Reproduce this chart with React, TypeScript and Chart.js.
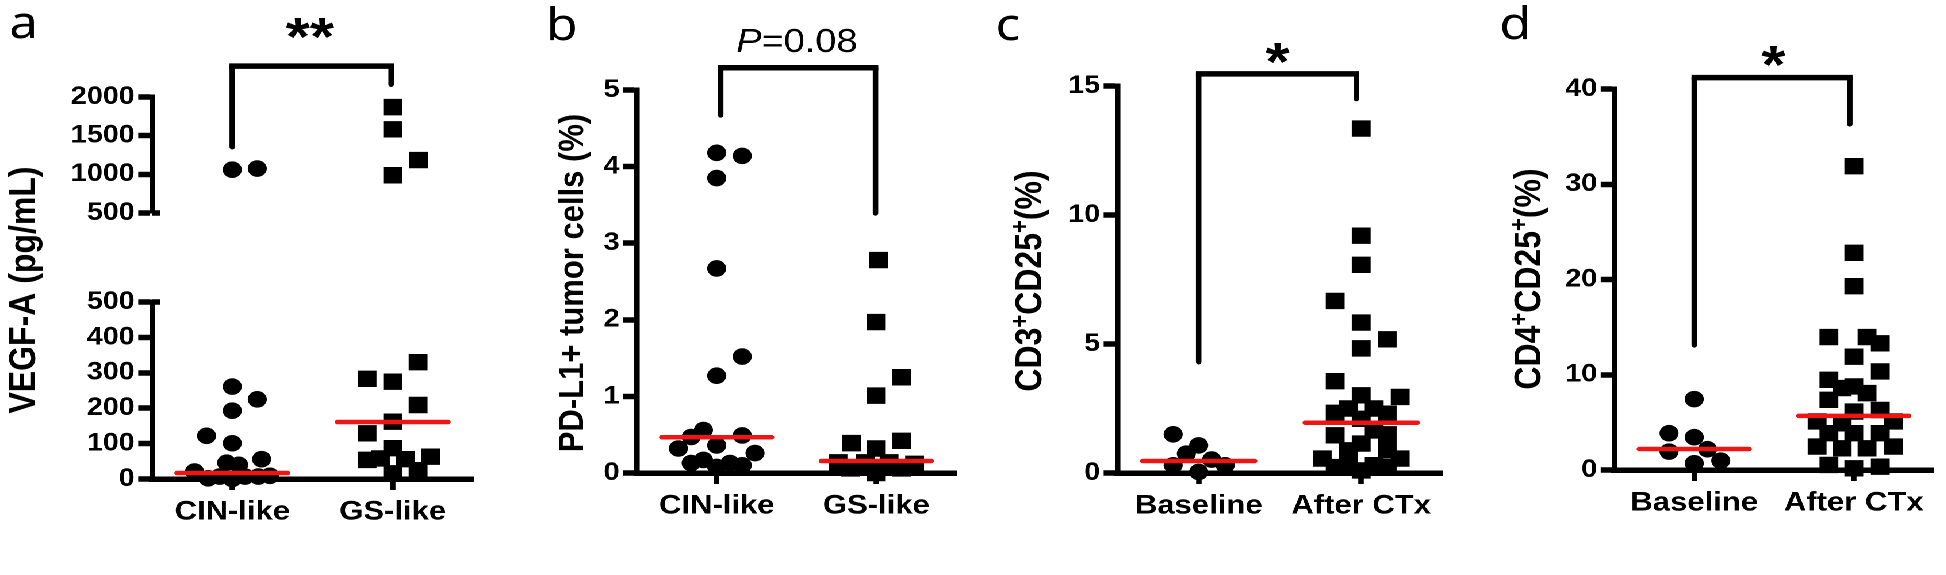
import React, { useEffect, useRef } from 'react';
import { Chart, registerables } from 'chart.js';

Chart.register(...registerables);

// ---------------- data ----------------
const groupsMolecular = ['CIN-like', 'GS-like'];
const groupsTreatment = ['Baseline', 'After CTx'];

// a: VEGF-A (pg/mL)
const vegfCin = [1060, 1075, 261, 225, 193, 122, 101, 46, 40, 56, 21, 2, 7, 0, 7, 7, 9];
const vegfCinJitter = [0, 0.156, 0, 0.156, 0, -0.16, 0, -0.035, 0.04, 0.183, -0.235, -0.15, -0.078, 0, 0.079, 0.163, 0.235];
const vegfGs = [1869, 1582, 1184, 988, 330, 283, 275, 209, 162, 129, 87, 54, 58, 56, 63, 16, 25];
const vegfGsJitter = [0, 0, 0.16, 0, 0.158, -0.16, 0, 0.158, 0, -0.16, 0, -0.16, -0.077, 0.079, 0.235, 0, 0.158];
const vegfMedians = [17, 161];
const vegfUpperTicks = [500, 1000, 1500, 2000];
const vegfLowerTicks = [0, 100, 200, 300, 400, 500];
const vegfBreak = 500;

// b: PD-L1+ tumor cells (%)
const pdl1Cin = [4.18, 4.14, 3.85, 2.67, 1.52, 1.27, 0.56, 0.47, 0.49, 0.32, 0.36, 0.26, 0.13, 0.17, 0.08, 0.13, 0.1];
const pdl1CinJitter = [0, 0.16, 0, 0, 0.16, 0, -0.083, -0.16, 0.16, -0.24, 0, 0.24, -0.16, -0.083, 0, 0.083, 0.16];
const pdl1Gs = [2.78, 1.97, 1.25, 1.01, 0.42, 0.39, 0.32, 0.14, 0.14, 0.14, 0.12, 0.06, 0.06, 0.06, 0.0];
const pdl1GsJitter = [0.015, 0, 0.16, 0, 0.16, -0.156, 0, -0.24, -0.07, 0.08, 0.24, -0.16, 0, 0.16, 0];
const pdl1Medians = [0.466, 0.157];
const pdl1Ticks = [0, 1, 2, 3, 4, 5];

// c: CD3+CD25+ (%)
const cd3Baseline = [1.5, 1.07, 0.75, 0.52, 0.3, 0.3, 0.04];
const cd3BaselineJitter = [-0.157, 0, -0.076, 0.08, -0.157, 0.163, 0];
const cd3After = [13.35, 9.2, 8.07, 6.67, 5.83, 5.18, 4.83, 3.56, 3.01, 2.95, 2.5, 2.5, 2.33, 2.3, 2.1, 1.65, 1.46, 1.5, 1.14, 0.88, 0.88, 0.56, 0.56, 0.23, 0.3, 0.1, 0.3, 0.23];
const cd3AfterJitter = [0, 0, 0, -0.16, 0, 0.16, 0, -0.16, 0, 0.24, -0.08, 0.08, -0.16, 0.16, 0, 0.08, -0.16, 0.16, 0, 0.16, -0.08, -0.24, 0.24, -0.16, -0.08, 0, 0.08, 0.16];
const cd3Medians = [0.465, 1.95];
const cd3Ticks = [0, 5, 10, 15];

// d: CD4+CD25+ (%)
const cd4Baseline = [7.44, 3.86, 3.44, 1.93, 2.18, 0.7, 0.98];
const cd4BaselineJitter = [0, -0.158, 0, -0.158, 0.083, 0, 0.166];
const cd4After = [31.9, 22.8, 19.3, 13.96, 13.96, 13.3, 11.9, 10.35, 9.47, 8.6, 8.77, 8.07, 7.37, 6.14, 6.3, 5.1, 4.9, 5.1, 3.86, 3.86, 3.86, 2.46, 2.28, 2.28, 2.46, 0.53, 0.18, 0.35];
const cd4AfterJitter = [0, 0, 0, -0.156, 0.083, 0.166, 0, 0.166, -0.156, -0.073, 0, 0.083, -0.156, 0, 0.166, -0.23, -0.073, 0.25, -0.156, 0, 0.166, -0.23, -0.073, 0.083, 0.25, -0.156, 0, 0.166];
const cd4Medians = [2.2, 5.68];
const cd4Ticks = [0, 10, 20, 30, 40];

// ---------------- layout & style ----------------
const S = 1.15; // the reference figure is stretched horizontally
const PAGE_W = 1946;
const PAGE_H = 575;
const RED = '#ee1515';
const FONT = '"Liberation Sans", Arial, sans-serif';
const LETTER_FONT = '"Noto Sans", sans-serif';
const MED_HALF = 0.345;
const Y_AXIS_W = 75;
const X_AXIS_H = 60;
const LINE_W = 5.5;

type Series = { values: number[]; jitter: number[]; cat: number; style: 'circle' | 'rect'; keep?: (v: number) => boolean };
type Seg = { t: string; sup?: boolean; italic?: boolean };
type Spec = {
  left: number; width: number; axisX: number; rightX: number; topY: number; bottomY: number;
  yTicks: number[]; xLabels: string[] | null; series: Series[]; medians: number[] | null;
  letter?: { t: string; x: number; y: number };
  title?: { segs: Seg[]; x: number; y: number; size: number };
  bracket?: { x1: number; x2: number; top: number; l: number; r: number };
  sig?: { segs: Seg[]; x: number; y: number; size: number; bold: boolean };
  breakAt?: number;
};

const above = (v: number) => v > vegfBreak;
const below = (v: number) => v <= vegfBreak;
const plus = '+';

const panelA = { left: 0, width: 490, axisX: 152, rightX: 473 };
const panelB = { left: 490, width: 480, axisX: 637, rightX: 960, topY: 90, bottomY: 473 };
const panelC = { left: 970, width: 490, axisX: 1118, rightX: 1443, topY: 86, bottomY: 473 };
const panelD = { left: 1460, width: 486, axisX: 1614, rightX: 1938, topY: 89, bottomY: 470 };

const SPECS: Spec[] = [
  {
    ...panelA, topY: 97, bottomY: 273, yTicks: vegfUpperTicks, xLabels: null, medians: null,
    series: [
      { values: vegfCin, jitter: vegfCinJitter, cat: 1, style: 'circle', keep: above },
      { values: vegfGs, jitter: vegfGsJitter, cat: 2, style: 'rect', keep: above },
    ],
    letter: { t: 'a', x: 9, y: 38 },
    title: { segs: [{ t: 'VEGF-A (pg/mL)' }], x: 35, y: 290, size: 32 },
    bracket: { x1: 1, x2: 1.99, top: 2400, l: 1352, r: 2161 },
    sig: { segs: [{ t: '**' }], x: 310, y: 55, size: 54, bold: true },
    breakAt: vegfBreak,
  },
  {
    ...panelA, topY: 302, bottomY: 479, yTicks: vegfLowerTicks, xLabels: groupsMolecular, medians: vegfMedians,
    series: [
      { values: vegfCin, jitter: vegfCinJitter, cat: 1, style: 'circle', keep: below },
      { values: vegfGs, jitter: vegfGsJitter, cat: 2, style: 'rect', keep: below },
    ],
    breakAt: vegfBreak,
  },
  {
    ...panelB, yTicks: pdl1Ticks, xLabels: groupsMolecular, medians: pdl1Medians,
    series: [
      { values: pdl1Cin, jitter: pdl1CinJitter, cat: 1, style: 'circle' },
      { values: pdl1Gs, jitter: pdl1GsJitter, cat: 2, style: 'rect' },
    ],
    letter: { t: 'b', x: 546, y: 40 },
    title: { segs: [{ t: 'PD-L1+ tumor cells (%)' }], x: 583, y: 283, size: 31 },
    bracket: { x1: 1.025, x2: 1.995, top: 5.29, l: 4.67, r: 3.39 },
    sig: { segs: [{ t: 'P', italic: true }, { t: '=0.08' }], x: 797, y: 52, size: 33, bold: false },
  },
  {
    ...panelC, yTicks: cd3Ticks, xLabels: groupsTreatment, medians: cd3Medians,
    series: [
      { values: cd3Baseline, jitter: cd3BaselineJitter, cat: 1, style: 'circle' },
      { values: cd3After, jitter: cd3AfterJitter, cat: 2, style: 'rect' },
    ],
    letter: { t: 'c', x: 996, y: 40 },
    title: { segs: [{ t: 'CD3' }, { t: plus, sup: true }, { t: 'CD25' }, { t: plus, sup: true }, { t: '(%)' }], x: 1042, y: 281, size: 32 },
    bracket: { x1: 1, x2: 1.97, top: 15.47, l: 4.3, r: 14.5 },
    sig: { segs: [{ t: '*' }], x: 1278, y: 80, size: 54, bold: true },
  },
  {
    ...panelD, yTicks: cd4Ticks, xLabels: groupsTreatment, medians: cd4Medians,
    series: [
      { values: cd4Baseline, jitter: cd4BaselineJitter, cat: 1, style: 'circle' },
      { values: cd4After, jitter: cd4AfterJitter, cat: 2, style: 'rect' },
    ],
    letter: { t: 'd', x: 1499, y: 39 },
    title: { segs: [{ t: 'CD4' }, { t: plus, sup: true }, { t: 'CD25' }, { t: plus, sup: true }, { t: '(%)' }], x: 1540, y: 279, size: 32 },
    bracket: { x1: 1, x2: 1.975, top: 41.2, l: 13.1, r: 36.3 },
    sig: { segs: [{ t: '*' }], x: 1773, y: 83, size: 54, bold: true },
  },
];

function drawSegs(ctx: CanvasRenderingContext2D, segs: Seg[], size: number, bold: boolean, cx: number, baseY: number) {
  const fontFor = (s: Seg) =>
    `${s.italic ? 'italic ' : ''}${bold ? 'bold ' : ''}${s.sup ? Math.round(size * 0.7) : size}px ${FONT}`;
  let total = 0;
  const widths = segs.map((s) => {
    ctx.font = fontFor(s);
    const w = ctx.measureText(s.t).width;
    total += w;
    return w;
  });
  let x = cx - total / 2;
  segs.forEach((s, i) => {
    ctx.font = fontFor(s);
    ctx.fillText(s.t, x, s.sup ? baseY - size * 0.36 : baseY);
    x += widths[i];
  });
}

function annotationPlugin(spec: Spec) {
  return {
    id: 'annot',
    afterDraw(chart: any) {
      const ctx: CanvasRenderingContext2D = chart.ctx;
      const px = (x: number) => (x - spec.left) / S;
      const xs = chart.scales.x;
      const ys = chart.scales.y;
      ctx.save();
      ctx.fillStyle = '#000';
      ctx.strokeStyle = '#000';
      ctx.textAlign = 'left';
      ctx.textBaseline = 'alphabetic';
      if (spec.letter) {
        ctx.font = `45px ${LETTER_FONT}`;
        ctx.fillText(spec.letter.t, px(spec.letter.x), spec.letter.y);
      }
      if (spec.title) {
        ctx.save();
        ctx.translate(px(spec.title.x), spec.title.y);
        ctx.rotate(-Math.PI / 2);
        drawSegs(ctx, spec.title.segs, spec.title.size, true, 0, 0);
        ctx.restore();
      }
      if (spec.bracket) {
        const b = spec.bracket;
        const x1 = xs.getPixelForValue(b.x1);
        const x2 = xs.getPixelForValue(b.x2);
        const yt = ys.getPixelForValue(b.top);
        ctx.lineCap = 'round';
        ctx.lineJoin = 'miter';
        // vertical legs (thinner in canvas units because of the horizontal stretch)
        ctx.lineWidth = LINE_W / S;
        ctx.beginPath();
        ctx.moveTo(x1, ys.getPixelForValue(b.l));
        ctx.lineTo(x1, yt);
        ctx.moveTo(x2, yt);
        ctx.lineTo(x2, ys.getPixelForValue(b.r));
        ctx.stroke();
        ctx.lineWidth = LINE_W;
        ctx.lineCap = 'butt';
        ctx.beginPath();
        ctx.moveTo(x1 - LINE_W / S / 2, yt);
        ctx.lineTo(x2 + LINE_W / S / 2, yt);
        ctx.stroke();
      }
      if (spec.sig) {
        drawSegs(ctx, spec.sig.segs, spec.sig.size, spec.sig.bold, px(spec.sig.x), spec.sig.y);
      }
      if (spec.breakAt != null) {
        const y = ys.getPixelForValue(spec.breakAt);
        ctx.lineWidth = LINE_W;
        ctx.lineCap = 'butt';
        ctx.beginPath();
        ctx.moveTo(chart.chartArea.left, y);
        ctx.lineTo(chart.chartArea.left + 7, y);
        ctx.stroke();
      }
      ctx.restore();
    },
  };
}

function buildConfig(spec: Spec, W: number): any {
  const axisRel = (spec.axisX - spec.left) / S;
  const rightRel = (spec.rightX - spec.left) / S;
  const showX = !!spec.xLabels;
  const datasets: any[] = [];
  (spec.medians || []).forEach((m, i) => {
    datasets.push({
      type: 'line',
      data: [{ x: i + 1 - MED_HALF, y: m }, { x: i + 1 + MED_HALF, y: m }],
      borderColor: RED,
      borderWidth: 4.5,
      borderCapStyle: 'round',
      pointRadius: 0,
      clip: false,
    });
  });
  spec.series.forEach((s) => {
    const pts = s.values
      .map((v, i) => ({ x: s.cat + s.jitter[i], y: v }))
      .filter((p) => (s.keep ? s.keep(p.y) : true));
    datasets.push({
      type: 'scatter',
      data: pts,
      pointStyle: s.style,
      pointRadius: s.style === 'circle' ? 8.3 : 11.6,
      backgroundColor: '#000',
      borderColor: '#000',
      borderWidth: 0,
      clip: false,
    });
  });
  const yTicks = spec.yTicks;
  return {
    type: 'scatter',
    data: { datasets },
    options: {
      responsive: false,
      maintainAspectRatio: false,
      devicePixelRatio: 2,
      animation: false,
      events: [],
      layout: {
        padding: {
          left: axisRel - Y_AXIS_W,
          right: W - rightRel,
          top: spec.topY,
          bottom: PAGE_H - spec.bottomY - (showX ? X_AXIS_H : 0),
        },
      },
      plugins: { legend: { display: false }, tooltip: { enabled: false }, title: { display: false } },
      scales: {
        x: {
          type: 'linear',
          display: showX,
          min: 0.5,
          max: 2.5,
          afterBuildTicks: (sc: any) => { sc.ticks = [{ value: 1 }, { value: 2 }]; },
          afterFit: (sc: any) => { sc.height = X_AXIS_H; },
          ticks: {
            autoSkip: false,
            maxRotation: 0,
            minRotation: 0,
            padding: 6,
            color: '#000',
            font: { family: FONT, size: 27, weight: 'bold' },
            callback: (v: number) => (spec.xLabels ? spec.xLabels[Math.round(v) - 1] : ''),
          },
          grid: { drawOnChartArea: false, drawTicks: true, tickLength: 11, tickWidth: LINE_W / S, tickColor: '#000', color: '#000' },
          border: { display: true, color: '#000', width: LINE_W },
        },
        y: {
          type: 'linear',
          min: yTicks[0],
          max: yTicks[yTicks.length - 1],
          afterBuildTicks: (sc: any) => { sc.ticks = yTicks.map((v) => ({ value: v })); },
          afterFit: (sc: any) => { sc.width = Y_AXIS_W; },
          ticks: {
            autoSkip: false,
            padding: 3,
            color: '#000',
            font: { family: FONT, size: 25, weight: 'bold' },
            callback: (v: number) => String(v),
          },
          grid: { drawOnChartArea: false, drawTicks: true, tickLength: 12, tickWidth: LINE_W, tickColor: '#000', color: '#000' },
          border: { display: true, color: '#000', width: LINE_W / S },
        },
      },
    },
    plugins: [annotationPlugin(spec)],
  };
}

function Panel({ spec }: { spec: Spec }) {
  const ref = useRef<HTMLCanvasElement | null>(null);
  const W = Math.round(spec.width / S);
  useEffect(() => {
    if (!ref.current) return;
    const chart = new Chart(ref.current, buildConfig(spec, W));
    return () => chart.destroy();
  }, []);
  return (
    <canvas
      ref={ref}
      width={W}
      height={PAGE_H}
      style={{ position: 'absolute', left: spec.left / S, top: 0, width: W, height: PAGE_H }}
    />
  );
}

export default function App() {
  return (
    <div style={{ position: 'fixed', left: 0, top: 0, width: PAGE_W, height: PAGE_H, background: '#fff', overflow: 'hidden' }}>
      <div
        style={{
          position: 'absolute',
          left: 0,
          top: 0,
          width: PAGE_W / S,
          height: PAGE_H,
          transform: `scaleX(${S})`,
          transformOrigin: '0 0',
        }}
      >
        {SPECS.map((s, i) => (
          <Panel key={i} spec={s} />
        ))}
      </div>
    </div>
  );
}
